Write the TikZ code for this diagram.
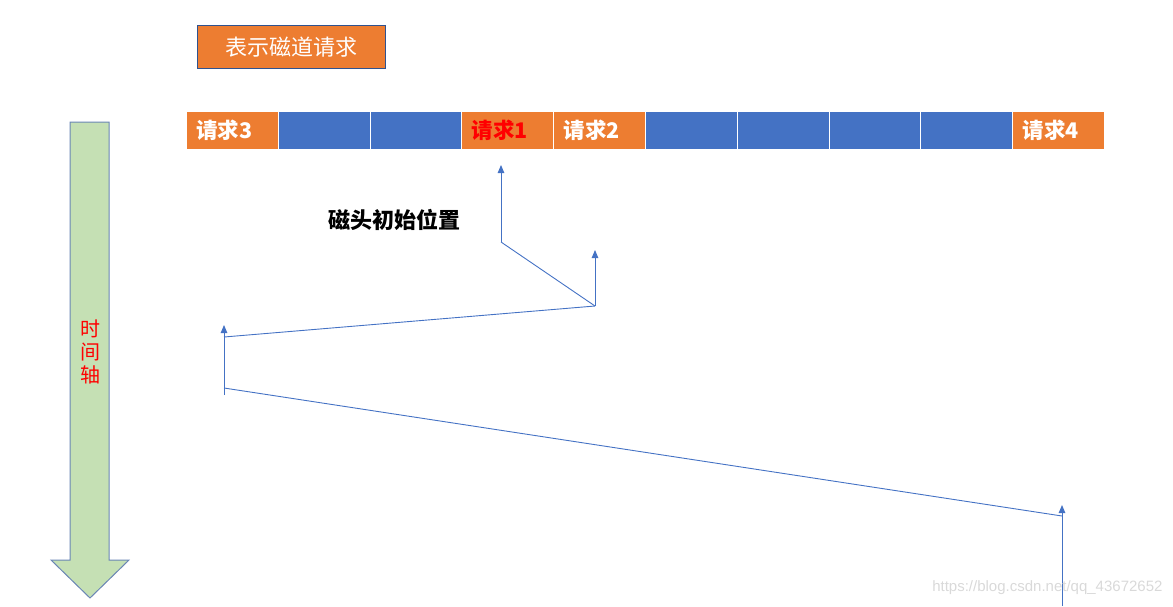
\documentclass[tikz,border=0pt]{standalone}
\usepackage{fontspec}
\newfontfamily\cjk{Noto Sans CJK SC}
\newfontfamily\wm{Liberation Sans}
\usetikzlibrary{arrows.meta}
\definecolor{cOrange}{HTML}{ED7D31}
\definecolor{cBlue}{HTML}{4472C4}
\definecolor{cDark}{HTML}{2F528F}
\definecolor{cGreen}{HTML}{C5E0B4}
\definecolor{cArrowEdge}{HTML}{6A86B5}
\definecolor{cWm}{HTML}{D9D9D9}
\begin{document}
\begin{tikzpicture}[x=1pt,y=-1pt,
  cell/.style={minimum width=91.8pt,minimum height=38pt,inner sep=0pt,draw=white,line width=1pt,anchor=north west},
  req/.style={cell,fill=cOrange,text=white,font=\cjk\bfseries\fontsize{21.5}{21.5}\selectfont,align=left,text width=72pt},
  blank/.style={cell,fill=cBlue},
  path/.style={draw=cBlue,line width=0.9pt},
  uparrow/.style={path,-{Triangle[length=8pt,width=6.5pt]}}]
\useasboundingbox (0,0) rectangle (1173,606);
% legend
\node[draw=cDark,line width=1pt,fill=cOrange,text=white,minimum width=188pt,minimum height=43pt,inner sep=0pt,anchor=north west,font=\cjk\fontsize{22}{22}\selectfont] (legend) at (197,25) {表示磁道请求};
% track cells
\node[req] (c1) at (186,111) {请求3};
\node[blank] (c2) at (277.8,111) {};
\node[blank] (c3) at (369.6,111) {};
\node[req,text=red] (c4) at (461.4,111) {请求1};
\node[req] (c5) at (553.2,111) {请求2};
\node[blank] (c6) at (645,111) {};
\node[blank] (c7) at (736.8,111) {};
\node[blank] (c8) at (828.6,111) {};
\node[blank] (c9) at (920.4,111) {};
\node[req] (c10) at (1012.2,111) {请求4};
% time axis arrow
\draw[draw=cArrowEdge,line width=1pt,fill=cGreen] (70,122) -- (109,122) -- (109,560) -- (129,560) -- (90,598) -- (51,560) -- (70,560) -- cycle;
\node[text=red,font=\cjk\fontsize{20}{23}\selectfont,align=center] (axis) at (90,352) {时\\间\\轴};
% label
\node[font=\cjk\bfseries\fontsize{22}{22}\selectfont] (start) at (394,220) {磁头初始位置};
% head movement
\coordinate (p0) at (501,242);
\coordinate (t0) at (501,165);
\coordinate (p1) at (595,306);
\coordinate (t1) at (595,250);
\coordinate (p2) at (224,337);
\coordinate (b2) at (224,395);
\coordinate (t2) at (224,325);
\coordinate (p3) at (224,388);
\coordinate (p4) at (1062,516);
\coordinate (b4) at (1062,606);
\coordinate (t4) at (1062,505);
\draw[uparrow] (p0) -- (t0);
\draw[path] (p0) -- (p1);
\draw[uparrow] (p1) -- (t1);
\draw[path] (p1) -- (p2);
\draw[uparrow] (b2) -- (t2);
\draw[path] (p3) -- (p4);
\draw[uparrow] (b4) -- (t4);
% watermark
\node[text=cWm,font=\wm\fontsize{15}{15}\selectfont,anchor=east] (wmk) at (1166,588) {https://blog.csdn.net/qq\_43672652};
\end{tikzpicture}
\end{document}
